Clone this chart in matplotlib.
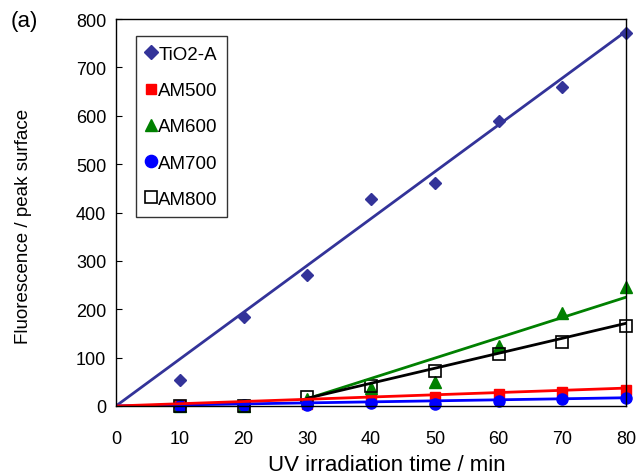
from matplotlib import pyplot as plt
import numpy as np

plt.rcParams['font.family'] = ['Liberation Sans', 'DejaVu Sans']

#--------------------------------------------------------------------------------
# data
t = [10, 20, 30, 40, 50, 60, 70, 80]

tio2_a = [53, 184, 271, 428, 461, 589, 659, 771]
am500 = [1, 2, 4, 15, 19, 25, 29, 34]
am600 = [0, 0, 15, 37, 50, 125, 192, 245]
am700 = [0, 1, 1, 6, 4, 11, 14, 17]
am800 = [0, 0, 18, 41, 72, 107, 133, 165]

# trend lines (start/end points)
fit_t_full = [0, 80]
fit_t_late = [30, 80]
fit_tio2_a = [0, 775]
fit_am500 = [0, 37]
fit_am600 = [15, 225]
fit_am700 = [0, 17]
fit_am800 = [16, 171]

#--------------------------------------------------------------------------------
fig = plt.figure(figsize=(6.39, 4.77), dpi=100)
ax = fig.add_axes([0.1815, 0.1468, 0.7985, 0.8112])

c_tio2 = '#333399'
ax.plot(t, tio2_a, 'D', color=c_tio2, markersize=6.5, label='TiO2-A', clip_on=False)
ax.plot(t, am500, 's', color='#ff0000', markersize=7, label='AM500', clip_on=False)
ax.plot(t, am600, '^', color='#008000', markersize=8, label='AM600', clip_on=False)
ax.plot(t, am700, 'o', color='#0000ff', markersize=8, label='AM700', clip_on=False)
ax.plot(t, am800, 's', color='black', mfc='none', mew=1.2, markersize=8, label='AM800', clip_on=False)

ax.plot(fit_t_full, fit_tio2_a, '-', color=c_tio2, lw=2)
ax.plot(fit_t_late, fit_am600, '-', color='#008000', lw=2)
ax.plot(fit_t_late, fit_am800, '-', color='black', lw=2)
ax.plot(fit_t_full, fit_am700, '-', color='#0000ff', lw=2)
ax.plot(fit_t_full, fit_am500, '-', color='#ff0000', lw=2)

ax.set_xlim(0, 80)
ax.set_ylim(0, 800)
ax.set_xticks(np.arange(0, 81, 10))
ax.set_yticks(np.arange(0, 801, 100))
ax.tick_params(axis='y', direction='in', length=4, labelsize=13, pad=7)
ax.tick_params(axis='x', length=0, labelsize=13, pad=17)
for s in ax.spines.values():
    s.set_linewidth(1.0)

ax.set_xlabel('UV irradiation time / min', fontsize=16, va='center')
ax.xaxis.set_label_coords(0.531, -0.152)
ax.set_ylabel('Fluorescence / peak surface', fontsize=13.5, va='center')
ax.yaxis.set_label_coords(-0.182, 0.467)

leg = ax.legend(loc='upper left', bbox_to_anchor=(0.039, 0.955), fontsize=13.5,
                frameon=True, fancybox=False, edgecolor='black', borderpad=0.5,
                labelspacing=1.02, handlelength=0.6, handletextpad=0.1,
                borderaxespad=0, markerscale=1.1)
leg.get_frame().set_linewidth(1.0)

fig.text(0.016, 0.955, '(a)', fontsize=16, va='center')

plt.savefig('out.png', dpi=100)
plt.close()
